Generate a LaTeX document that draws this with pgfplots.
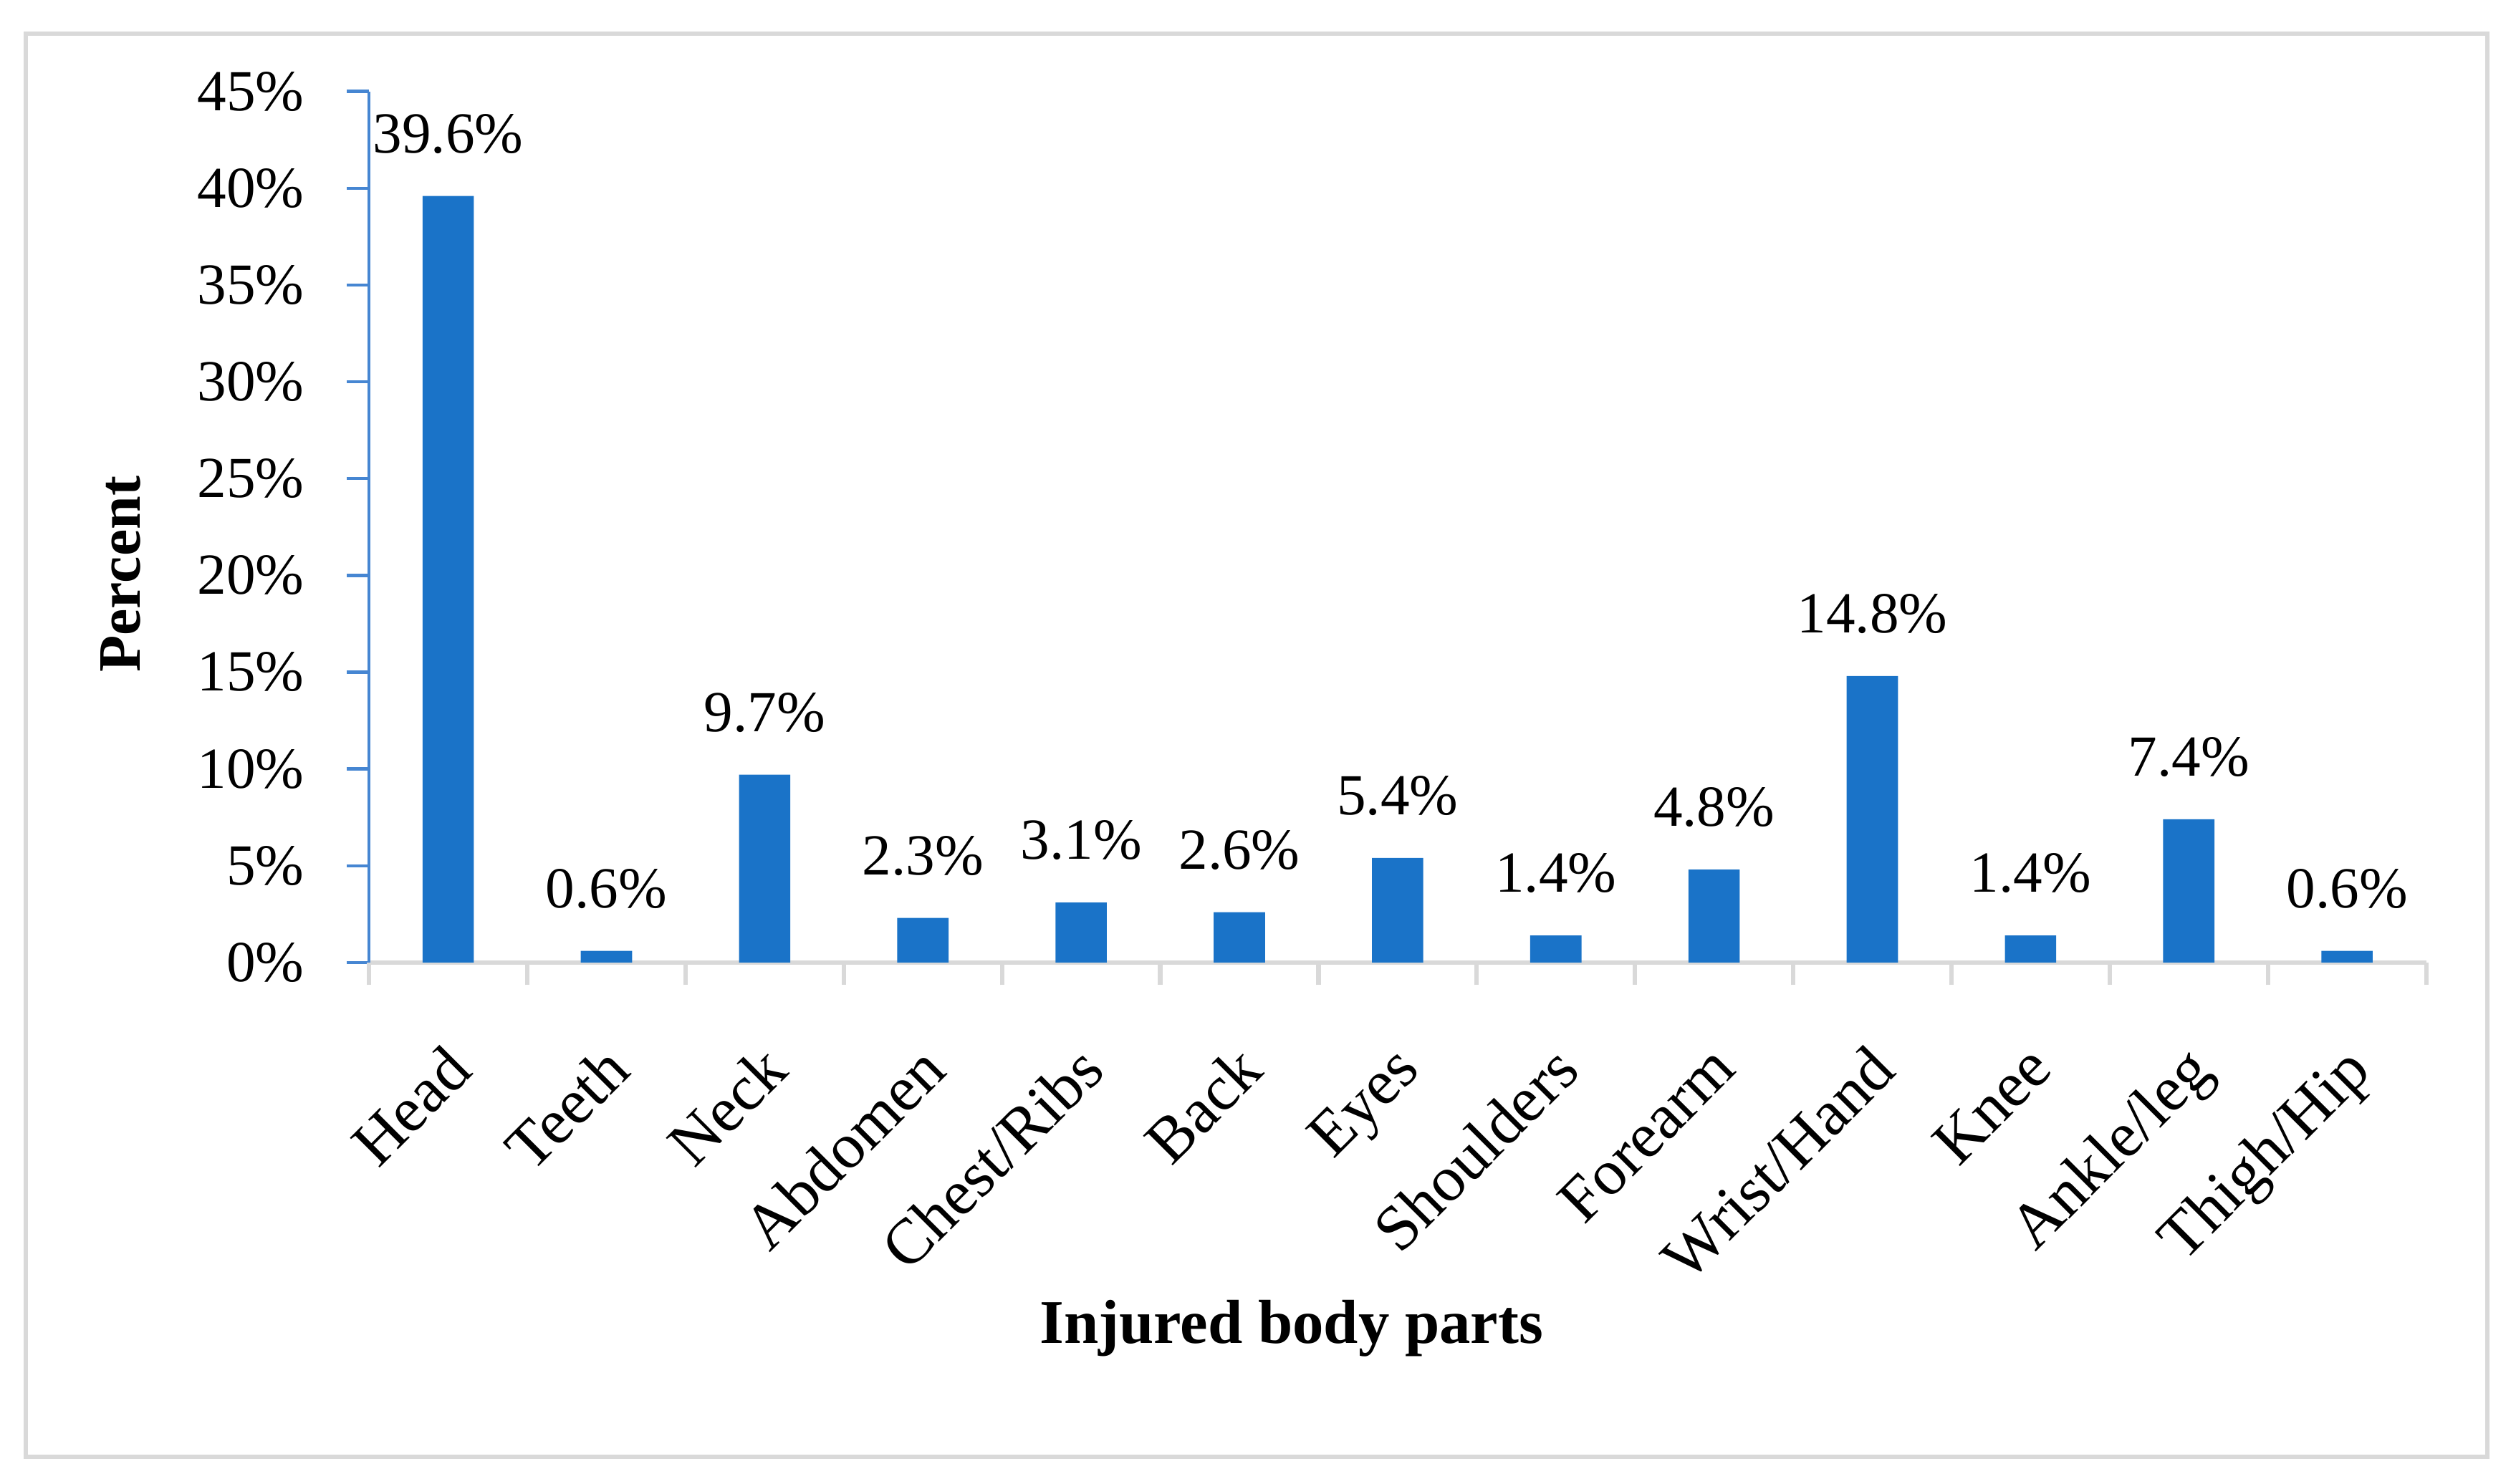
\documentclass[border=0pt]{standalone}
\usepackage{fontspec}
\setmainfont{Liberation Serif}
\usepackage{pgfplots}
\pgfplotsset{compat=1.18}

\definecolor{barblue}{RGB}{26,115,200}
\definecolor{axisblue}{RGB}{70,134,210}
\definecolor{framegray}{RGB}{217,217,217}

\begin{document}
\begin{tikzpicture}[font=\fontsize{14.5}{17}\selectfont]
\useasboundingbox (-92pt,-130pt) rectangle (535.2pt,240pt);
\draw[framegray, line width=1.1pt] (-85.6pt,-123.2pt) rectangle (528pt,231.6pt);
\begin{axis}[
  scale only axis,
  width=512.8pt, height=217.2pt,
  xmin=-0.5, xmax=12.5,
  ymin=0, ymax=45,
  ytick={0,5,...,45},
  yticklabel={\pgfmathprintnumber{\tick}\%},
  /pgf/number format/assume math mode=true,
  xtick={0,...,12},
  xticklabels={Head,Teeth,Neck,Abdomen,Chest/Ribs,Back,Eyes,Shoulders,Forearm,Wrist/Hand,Knee,Ankle/leg,Thigh/Hip},
  xticklabel style={yshift=-14pt, xshift=-1.4pt, rotate=45, anchor=north east, inner sep=0pt,
    font=\fontsize{16}{19}\selectfont},
  yticklabel style={inner sep=0pt, xshift=-10.4pt},
  axis x line*=bottom,
  axis y line*=left,
  x axis line style={draw=framegray, line width=1.2pt},
  y axis line style={draw=axisblue, line width=0.6pt},
  tick align=outside,
  major tick length=5.6pt,
  x tick style={draw=none},
  y tick style={draw=axisblue, line width=0.8pt},
  extra x ticks={-0.5,0.5,...,12.5},
  extra x tick labels={},
  extra x tick style={x tick style={draw=framegray, line width=1.1pt}},
  grid=none,
  clip=false,
  nodes near coords={\pgfmathprintnumber[fixed,precision=1,fixed zerofill]{\pgfplotspointmeta}\%},
  nodes near coords style={inner sep=0pt, anchor=south, yshift=10.4pt, text=black},
]
\addplot[ybar, bar width=12.8pt, fill=barblue, draw=none] coordinates {
  (0,39.6) (1,0.6) (2,9.7) (3,2.3) (4,3.1) (5,2.6) (6,5.4)
  (7,1.4) (8,4.8) (9,14.8) (10,1.4) (11,7.4) (12,0.6)
};
\end{axis}
\node[rotate=90, font=\fontsize{15}{18}\selectfont\bfseries] at (-62pt,96.8pt) {Percent};
\node[font=\fontsize{15.5}{18}\selectfont\bfseries] at (230pt,-91.2pt) {Injured body parts};
\end{tikzpicture}
\end{document}
